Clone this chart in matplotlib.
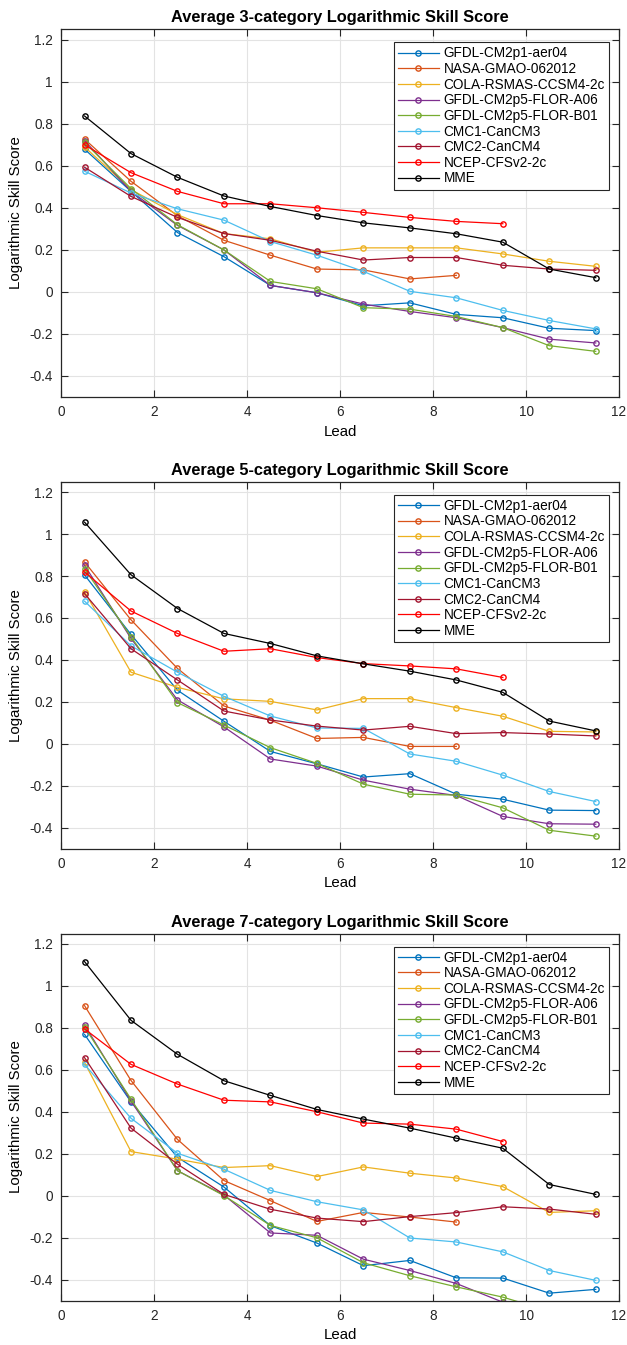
import matplotlib
matplotlib.use("Agg")
import matplotlib.pyplot as plt
from matplotlib.ticker import FuncFormatter
import numpy as np

plt.rcParams['font.family'] = ['Liberation Sans', 'DejaVu Sans']
plt.rcParams['axes.unicode_minus'] = False

leads = [0.5, 1.5, 2.5, 3.5, 4.5, 5.5, 6.5, 7.5, 8.5, 9.5, 10.5, 11.5]

models = ["GFDL-CM2p1-aer04", "NASA-GMAO-062012", "COLA-RSMAS-CCSM4-2c",
          "GFDL-CM2p5-FLOR-A06", "GFDL-CM2p5-FLOR-B01", "CMC1-CanCM3",
          "CMC2-CanCM4", "NCEP-CFSv2-2c", "MME"]
colors = ["#0072BD", "#D95319", "#EDB120", "#7E2F8E", "#77AC30",
          "#4DBEEE", "#A2142F", "#FF0000", "#000000"]

titles = ["Average 3-category Logarithmic Skill Score",
          "Average 5-category Logarithmic Skill Score",
          "Average 7-category Logarithmic Skill Score"]

# ---- 3-category ----
cat3_aer04 = [0.679, 0.478, 0.282, 0.167, 0.030, -0.005, -0.067, -0.053, -0.108, -0.124, -0.174, -0.185]
cat3_nasa = [0.727, 0.526, 0.362, 0.245, 0.174, 0.108, 0.104, 0.061, 0.078]
cat3_cola = [0.690, 0.486, 0.367, 0.277, 0.252, 0.188, 0.209, 0.209, 0.209, 0.180, 0.145, 0.121]
cat3_a06 = [0.720, 0.478, 0.316, 0.199, 0.030, -0.005, -0.059, -0.094, -0.124, -0.171, -0.226, -0.244]
cat3_b01 = [0.711, 0.491, 0.319, 0.199, 0.049, 0.014, -0.076, -0.083, -0.118, -0.171, -0.257, -0.284]
cat3_cmc1 = [0.574, 0.470, 0.395, 0.341, 0.239, 0.174, 0.097, 0.002, -0.029, -0.089, -0.137, -0.177]
cat3_cmc2 = [0.593, 0.454, 0.354, 0.277, 0.245, 0.193, 0.151, 0.163, 0.163, 0.126, 0.108, 0.102]
cat3_ncep = [0.700, 0.567, 0.478, 0.419, 0.419, 0.400, 0.378, 0.354, 0.335, 0.324]
cat3_mme = [0.837, 0.658, 0.545, 0.456, 0.406, 0.363, 0.328, 0.304, 0.276, 0.236, 0.108, 0.067]

# ---- 5-category ----
cat5_aer04 = [0.805, 0.521, 0.255, 0.107, -0.037, -0.096, -0.159, -0.143, -0.241, -0.265, -0.317, -0.319]
cat5_nasa = [0.867, 0.591, 0.359, 0.180, 0.112, 0.025, 0.030, -0.013, -0.013]
cat5_cola = [0.725, 0.341, 0.269, 0.214, 0.202, 0.161, 0.215, 0.215, 0.172, 0.131, 0.059, 0.056]
cat5_a06 = [0.851, 0.502, 0.209, 0.080, -0.073, -0.107, -0.174, -0.217, -0.247, -0.347, -0.382, -0.384]
cat5_b01 = [0.835, 0.510, 0.196, 0.089, -0.019, -0.094, -0.193, -0.241, -0.245, -0.306, -0.413, -0.441]
cat5_cmc1 = [0.680, 0.467, 0.341, 0.226, 0.132, 0.075, 0.073, -0.049, -0.084, -0.150, -0.228, -0.276]
cat5_cmc2 = [0.716, 0.453, 0.304, 0.156, 0.113, 0.084, 0.065, 0.083, 0.048, 0.053, 0.046, 0.037]
cat5_ncep = [0.819, 0.633, 0.526, 0.441, 0.453, 0.411, 0.382, 0.371, 0.357, 0.316]
cat5_mme = [1.057, 0.806, 0.645, 0.526, 0.478, 0.419, 0.381, 0.346, 0.304, 0.245, 0.108, 0.061]

# ---- 7-category ----
cat7_aer04 = [0.769, 0.447, 0.183, 0.041, -0.143, -0.226, -0.334, -0.309, -0.392, -0.393, -0.465, -0.447]
cat7_nasa = [0.906, 0.549, 0.268, 0.072, -0.024, -0.123, -0.080, -0.102, -0.126]
cat7_cola = [0.635, 0.210, 0.174, 0.134, 0.143, 0.091, 0.137, 0.107, 0.084, 0.043, -0.080, -0.072]
cat7_a06 = [0.814, 0.451, 0.119, 0.003, -0.178, -0.189, -0.303, -0.357, -0.419, -0.508, -0.560, -0.575]
cat7_b01 = [0.804, 0.460, 0.119, 0.000, -0.142, -0.201, -0.320, -0.382, -0.435, -0.484, -0.550, -0.575]
cat7_cmc1 = [0.626, 0.369, 0.202, 0.126, 0.025, -0.029, -0.068, -0.202, -0.221, -0.268, -0.357, -0.404]
cat7_cmc2 = [0.658, 0.322, 0.150, 0.006, -0.065, -0.107, -0.124, -0.100, -0.081, -0.053, -0.064, -0.089]
cat7_ncep = [0.795, 0.626, 0.532, 0.455, 0.447, 0.400, 0.346, 0.341, 0.317, 0.258]
cat7_mme = [1.116, 0.836, 0.674, 0.548, 0.478, 0.411, 0.365, 0.322, 0.274, 0.226, 0.053, 0.006]

panels = [
    [cat3_aer04, cat3_nasa, cat3_cola, cat3_a06, cat3_b01, cat3_cmc1, cat3_cmc2, cat3_ncep, cat3_mme],
    [cat5_aer04, cat5_nasa, cat5_cola, cat5_a06, cat5_b01, cat5_cmc1, cat5_cmc2, cat5_ncep, cat5_mme],
    [cat7_aer04, cat7_nasa, cat7_cola, cat7_a06, cat7_b01, cat7_cmc1, cat7_cmc2, cat7_ncep, cat7_mme],
]

W, H = 627, 1345
fig = plt.figure(figsize=(W / 100, H / 100), dpi=100)

# axes boxes in pixels: left, top, right, bottom
boxes = [(61.3, 29.3, 619, 396.7), (61.3, 481.7, 619, 848.5), (61.3, 933.5, 619, 1300.5)]

fmt = FuncFormatter(lambda v, p: ('%g' % round(v, 6)))

for k, (box, series, title) in enumerate(zip(boxes, panels, titles)):
    l, t, r, b = box
    ax = fig.add_axes([l / W, 1 - b / H, (r - l) / W, (b - t) / H])
    for name, col, vals in zip(models, colors, series):
        ax.plot(leads[:len(vals)], vals, '-o', color=col, lw=0.9,
                ms=3.8, mfc='none', mew=1.0, label=name)
    ax.set_xlim(0, 12)
    ax.set_ylim(-0.5, 1.25)
    ax.set_xticks(np.arange(0, 13, 2))
    ax.set_yticks(np.arange(-0.4, 1.21, 0.2))
    ax.xaxis.set_major_formatter(fmt)
    ax.yaxis.set_major_formatter(fmt)
    ax.grid(True, color='#e3e3e3', lw=0.8)
    ax.set_axisbelow(True)
    ax.tick_params(direction='in', length=5, width=0.8, top=True, right=True,
                   labelsize=9.8, colors='#262626', labelcolor='#262626', pad=6)
    for s in ax.spines.values():
        s.set_color('#262626')
        s.set_linewidth(0.9)
    ax.set_title(title, fontsize=11.8, fontweight='bold', pad=5)
    ax.set_xlabel('Lead', fontsize=10.8, labelpad=4)
    ax.set_ylabel('Logarithmic Skill Score', fontsize=10.8, labelpad=5)
    leg = ax.legend(loc='upper right', bbox_to_anchor=(1 - 10 / (r - l), 1 - 13 / (b - t)),
                    fontsize=9.8, frameon=True, fancybox=False, edgecolor='#262626',
                    framealpha=1, handlelength=3.0, handletextpad=0.35,
                    labelspacing=0.12, borderpad=0.3, borderaxespad=0.0)
    leg.get_frame().set_linewidth(0.8)

fig.savefig('out.png', dpi=100)
